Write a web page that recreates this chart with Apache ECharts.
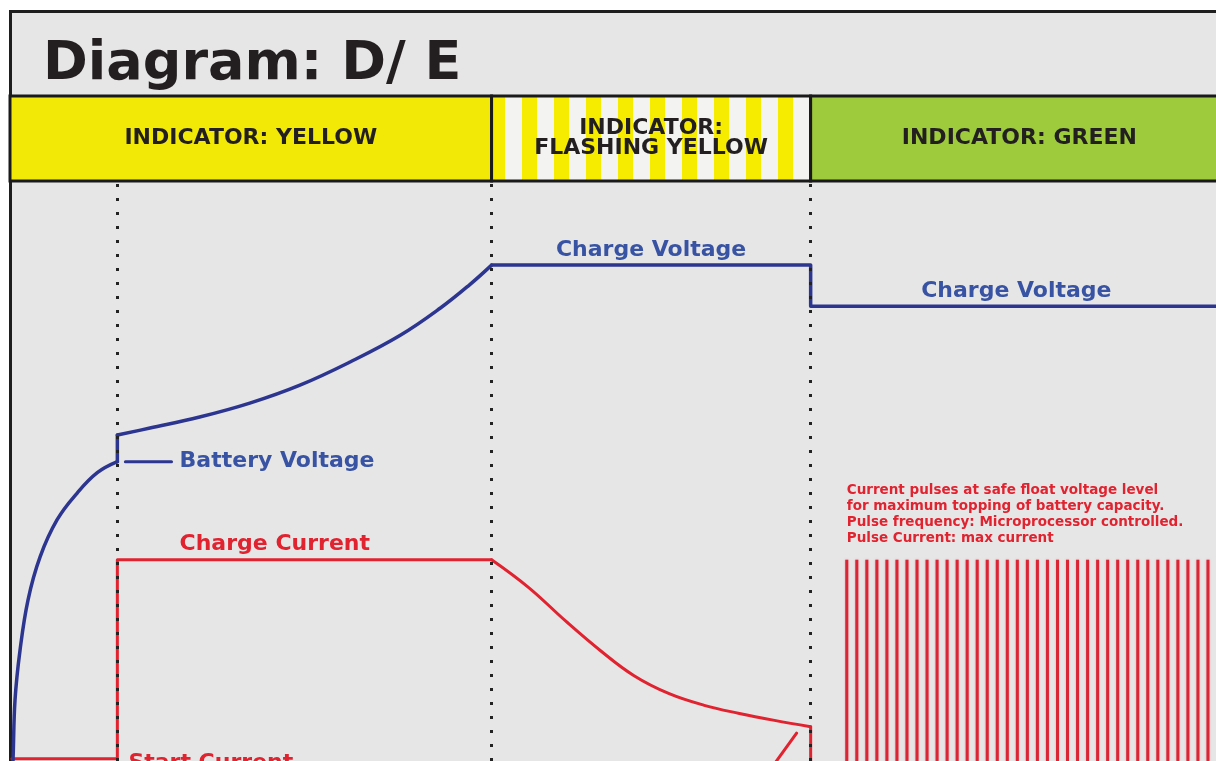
<!DOCTYPE html>
<html><head><meta charset="utf-8">
<script src="https://cdn.jsdelivr.net/npm/echarts@6/dist/echarts.min.js"></script>
<style>html,body{margin:0;padding:0;background:#fff;}#c{width:1216px;height:761px;}</style>
</head><body><div id="c"></div>
<script>
// ---- data (x: time units, y: relative level 0..100) ----
const phaseNames = ['INDICATOR: YELLOW', 'INDICATOR:\nFLASHING YELLOW', 'INDICATOR: GREEN'];
const phaseBounds = [-0.2, 47.8, 79.6, 121.2];
const phaseMarkers = [10.5, 47.8, 79.6];

// Battery voltage: initial rise, jump, absorption rise, then charge voltage levels
const batteryRise = [
  [0.05, -0.5], [0.1, 0.2], [0.3, 10.5], [0.8, 19.1], [1.6, 27.8], [2.8, 35.2],
  [4.5, 41.6], [6.5, 46.2], [8.5, 49.7], [10.5, 51.6]
];
const voltageJump = [[10.5, 51.6], [10.5, 56.2]];
const chargeRise = [
  [10.5, 56.2], [13.75, 57.4], [18.7, 59.3], [23.7, 61.7], [28.7, 64.8],
  [33.7, 68.8], [38.7, 73.4], [42.7, 78.1], [45.6, 82.1], [47.8, 85.5]
];
const voltageFlat = [[47.8, 85.5], [79.6, 85.5], [79.6, 78.4], [120, 78.4]];
const batteryLeader = [[11.3, 51.6], [15.9, 51.6]];

// Charge current: start current, constant current, taper
const currentStep = [[0, 0.4], [10.5, 0.4], [10.5, 34.7], [47.8, 34.7]];
const currentTaper = [
  [47.8, 34.7], [51.5, 29.9], [55.2, 24.1], [58.6, 19.1], [62.0, 14.7], [65.5, 11.6],
  [69.0, 9.6], [72.5, 8.2], [76.0, 7.0], [79.6, 5.9]
];
const currentDrop = [[79.6, 5.9], [79.6, -2]];
const pulseArrow = [[78.2, 4.8], [75.4, -1.9]];

const pulseX = [83.2, 84.2, 85.2, 86.2, 87.2, 88.2, 89.2, 90.2, 91.2, 92.2,
  93.2, 94.2, 95.2, 96.2, 97.2, 98.2, 99.2, 100.2, 101.2, 102.2,
  103.2, 104.2, 105.2, 106.2, 107.2, 108.2, 109.2, 110.2, 111.2, 112.2,
  113.2, 114.2, 115.2, 116.2, 117.2, 118.2, 119.2];
const pulseLevel = 34.7;

const titleText = 'Diagram: D/ E';
const labelTexts = ['Charge Voltage', 'Charge Voltage', 'Battery Voltage', 'Charge Current', 'Start Current'];
const noteLines = [
  'Current pulses at safe float voltage level',
  'for maximum topping of battery capacity.',
  'Pulse frequency: Microprocessor controlled.',
  'Pulse Current: max current'
];

// ---- styling ----
const BLUE = '#2c3590', BLUE_TXT = '#3853a3', RED = '#e1222f';
const stripe = document.createElement('canvas');
stripe.width = 32; stripe.height = 4;
const sctx = stripe.getContext('2d');
sctx.fillStyle = '#f3f3f1'; sctx.fillRect(0, 0, 32, 4);
sctx.fillStyle = '#f6ec00'; sctx.fillRect(10, 0, 15, 4);
const headerFills = ['#f2ea06', {image: stripe, repeat: 'repeat'}, '#9dcb3b'];

const chart = echarts.init(document.getElementById('c'), null, {renderer: 'canvas'});
const bold = {fontFamily: 'DejaVu Sans', fontWeight: 'bold'};
const lbl = (text, x, y, color, align) => ({
  value: [x, y],
  label: {show: true, formatter: text, position: 'inside', align: align, verticalAlign: 'middle',
    color: color, fontSize: 22, ...bold}
});
const lineSeries = (name, data, color, width, smooth, z) => ({
  type: 'line', name: name, data: data, symbol: 'none', clip: false, smooth: smooth,
  lineStyle: {color: color, width: width, join: 'round', cap: 'round'}, z: z, silent: true
});

chart.setOption({
  animation: false,
  backgroundColor: '#ffffff',
  title: {text: titleText, left: 38, top: 33,
    textStyle: {fontFamily: 'DejaVu Sans', fontWeight: 'bold', fontSize: 54, color: '#231f20'}},
  graphic: [{type: 'rect', z: -10, shape: {x: 10.5, y: 11.5, width: 1400, height: 1000},
    style: {fill: '#e6e6e6', stroke: '#1e1e1e', lineWidth: 3}}],
  grid: [
    {left: 12, right: 0, top: 181, height: 580, outerBoundsMode: 'none'},
    {left: 10, width: 1218, top: 96, height: 85, outerBoundsMode: 'none'}
  ],
  xAxis: [
    {type: 'value', min: 0, max: 120, show: false, gridIndex: 0},
    {type: 'value', min: -0.2, max: 121.2, show: false, gridIndex: 1}
  ],
  yAxis: [
    {type: 'value', min: 0, max: 100, show: false, gridIndex: 0},
    {type: 'value', min: 0, max: 1, show: false, gridIndex: 1}
  ],
  series: [
    {type: 'line', xAxisIndex: 1, yAxisIndex: 1, data: [], silent: true,
      markArea: {silent: true,
        label: {show: true, position: 'inside', color: '#231f20', fontSize: 22, lineHeight: 20, ...bold},
        itemStyle: {borderColor: '#1a1a1a', borderWidth: 3},
        data: phaseNames.map((n, i) => [
          {name: n, xAxis: phaseBounds[i], yAxis: 0, itemStyle: {color: headerFills[i]}},
          {xAxis: phaseBounds[i + 1], yAxis: 1}
        ])}},
    {type: 'bar', name: 'Pulse Current', data: pulseX.map(x => [x, pulseLevel]), barWidth: 3,
      itemStyle: {color: '#da2534', shadowBlur: 2, shadowColor: 'rgba(235,90,110,0.6)'}, z: 2, silent: true},
    lineSeries('Start / Charge Current', currentStep, RED, 3, false, 3),
    lineSeries('Current taper', currentTaper, RED, 3, 0.4, 3),
    lineSeries('Current drop', currentDrop, RED, 3, false, 3),
    lineSeries('Pulse start', pulseArrow, RED, 3, false, 3),
    lineSeries('Battery Voltage', batteryRise, BLUE, 3.5, 0.4, 4),
    lineSeries('Voltage jump', voltageJump, BLUE, 3.5, false, 4),
    lineSeries('Charging Voltage rise', chargeRise, BLUE, 3.5, 0.4, 4),
    lineSeries('Charge Voltage', voltageFlat, BLUE, 3.5, false, 4),
    lineSeries('Leader', batteryLeader, BLUE, 3, false, 4),
    {type: 'line', data: [], z: 6, silent: true,
      markLine: {symbol: ['none', 'none'], silent: true, label: {show: false},
        lineStyle: {type: [3, 11], color: '#222', width: 3},
        data: phaseMarkers.map(x => ({xAxis: x}))}},
    {type: 'scatter', symbolSize: 1, clip: false, itemStyle: {color: 'transparent', opacity: 1}, silent: true, z: 7,
      data: [
        lbl(labelTexts[0], 63.7, 88.1, BLUE_TXT, 'center'),
        lbl(labelTexts[1], 100.1, 80.9, BLUE_TXT, 'center'),
        lbl(labelTexts[2], 16.7, 51.6, BLUE_TXT, 'left'),
        lbl(labelTexts[3], 16.7, 37.4, RED, 'left'),
        lbl(labelTexts[4], 11.6, -0.34, RED, 'left'),
        {value: [83.2, 48.0], label: {show: true, formatter: noteLines.join('\n'), position: 'inside',
          align: 'left', verticalAlign: 'top', color: RED, fontSize: 13.5, lineHeight: 16,
          fontFamily: 'DejaVu Sans', fontWeight: 'bold'}}
      ]}
  ]
});
</script></body></html>
